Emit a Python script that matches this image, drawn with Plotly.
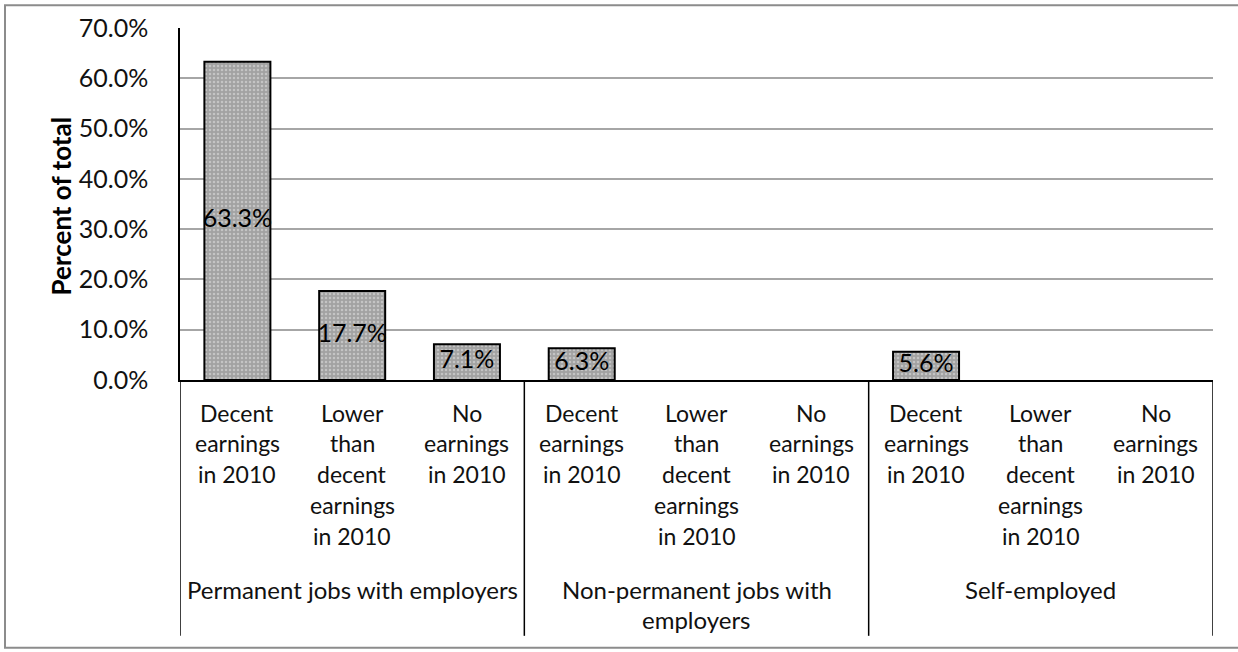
import plotly.graph_objects as go

# Chart data
categories = [
    "Decent\nearnings\nin 2010",
    "Lower\nthan\ndecent\nearnings\nin 2010",
    "No\nearnings\nin 2010",
    "Decent\nearnings\nin 2010",
    "Lower\nthan\ndecent\nearnings\nin 2010",
    "No\nearnings\nin 2010",
    "Decent\nearnings\nin 2010",
    "Lower\nthan\ndecent\nearnings\nin 2010",
    "No\nearnings\nin 2010",
]
values = [63.3, 17.7, 7.1, 6.3, None, None, 5.6, None, None]
groups = ["Permanent jobs with employers", "Non-permanent jobs with\nemployers", "Self-employed"]
y_ticks = [0, 10, 20, 30, 40, 50, 60, 70]

FONT = "Lato"
W, H = 1238, 652
L, R, T, B = 180, 25, 25, 272
plot_h = H - T - B
plot_w = W - L - R


def py(px_y):
    """Pixel row -> paper y."""
    return (H - B - px_y) / plot_h


def px(px_x):
    """Pixel column -> paper x."""
    return (px_x - L) / plot_w


xs = list(range(len(categories)))
fig = go.Figure()

bx = [x for x, v in zip(xs, values) if v is not None]
bv = [v for v in values if v is not None]

fig.add_trace(go.Bar(
    x=bx, y=bv, width=0.575,
    marker=dict(
        color="#a6a6a6",
        line=dict(color="#000000", width=2),
        pattern=dict(shape=".", fgcolor="#e6e6e6", bgcolor="#a2a2a2", size=4, solidity=0.3),
    ),
    hoverinfo="skip",
))

# value labels centred on each bar
fig.add_trace(go.Scatter(
    x=bx, y=[v / 2 for v in bv], mode="text",
    text=[f"{v:.1f}%" for v in bv],
    textfont=dict(family=FONT, size=25, color="#000000"),
    textposition="middle center",
    hoverinfo="skip",
))

annotations = []
# category labels, one annotation per line
for x, lab in zip(xs, categories):
    for k, line in enumerate(lab.split("\n")):
        annotations.append(dict(
            x=x, xref="x", y=py(413 + 31 * k), yref="paper",
            text=line, showarrow=False, xanchor="center", yanchor="middle",
            font=dict(family=FONT, size=23, color="#111111"),
        ))
# group labels
for g, name in enumerate(groups):
    for k, line in enumerate(name.split("\n")):
        annotations.append(dict(
            x=g * 3 + 1, xref="x", y=py(591 + 31 * k), yref="paper",
            text=line, showarrow=False, xanchor="center", yanchor="middle",
            font=dict(family=FONT, size=24, color="#111111"),
        ))
# y-axis title
annotations.append(dict(
    x=px(61), xref="paper", y=py(205), yref="paper",
    text="<b>Percent of total</b>", textangle=-90, showarrow=False,
    xanchor="center", yanchor="middle",
    font=dict(family=FONT, size=26, color="#000000"),
))

shapes = []
# separators between groups extending beneath the axis
for xsep in [-0.5, 2.5, 5.5, 8.5]:
    shapes.append(dict(
        type="line", xref="x", yref="paper", x0=xsep, x1=xsep,
        y0=py(638), y1=0, line=dict(color="#000000", width=1.5),
    ))
# outer chart border
shapes.append(dict(
    type="rect", xref="paper", yref="paper",
    x0=px(5), x1=px(1250), y0=py(650), y1=py(2),
    line=dict(color="#8c8c8c", width=2), fillcolor="rgba(0,0,0,0)", layer="below",
))

fig.update_layout(
    width=W, height=H,
    margin=dict(l=L, r=R, t=T, b=B),
    paper_bgcolor="white", plot_bgcolor="white",
    showlegend=False,
    annotations=annotations,
    shapes=shapes,
    xaxis=dict(
        range=[-0.5, 8.5], showticklabels=False, showgrid=False, zeroline=False,
        showline=True, linecolor="#000000", linewidth=1.5, ticks="", fixedrange=True,
    ),
    yaxis=dict(
        range=[0, 70], tickvals=y_ticks, ticktext=[f"{t:.1f}%" for t in y_ticks],
        showgrid=True, gridcolor="#a6a6a6", gridwidth=1.5, zeroline=False,
        showline=True, linecolor="#000000", linewidth=1.5, ticks="",
        ticklabelstandoff=25,
        tickfont=dict(family=FONT, size=25, color="#111111"),
        fixedrange=True,
    ),
)

fig.write_html("out.html")
